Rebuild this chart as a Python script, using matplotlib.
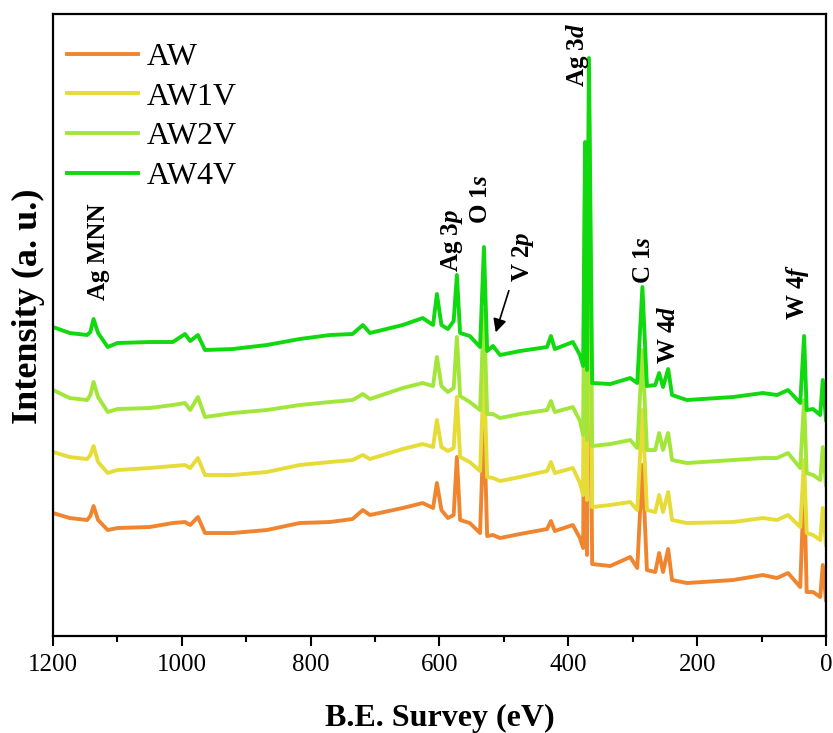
import matplotlib
matplotlib.use("Agg")
import matplotlib.pyplot as plt
from matplotlib.ticker import MultipleLocator

plt.rcParams["font.family"] = ["Liberation Serif", "DejaVu Serif"]
plt.rcParams["mathtext.fontset"] = "custom"
plt.rcParams["mathtext.rm"] = "Liberation Serif:bold"
plt.rcParams["mathtext.it"] = "Liberation Serif:italic:bold"
plt.rcParams["mathtext.bf"] = "Liberation Serif:bold"

# binding energy vertices (eV)
be = [1200, 1174, 1147, 1142, 1137, 1130, 1115, 1100, 1050, 1014,
      995, 987, 975, 964, 921, 868, 817, 770, 735, 719,
      708, 657, 626, 610, 604, 597, 587, 578, 573, 568,
      553, 537, 531, 526, 517, 506, 475, 433, 427, 421,
      393, 382, 377, 374, 371, 368, 363, 335, 304, 293,
      285, 278, 265, 259, 253, 245, 239, 216, 144, 98,
      76, 59, 40, 34, 30, 20, 9, 5, 0]

# intensities (a.u., already stacked)
aw = [123, 118, 116, 120, 130, 116, 106, 108, 109, 113,
      114, 111, 119, 103, 103, 106, 113, 114, 117, 126,
      121, 128, 133, 128, 153, 126, 118, 121, 179, 116,
      113, 103, 216, 100, 101, 98, 102, 107, 115, 105,
      111, 98, 88, 386, 81, 466, 72, 70, 79, 68,
      171, 66, 64, 83, 64, 87, 56, 53, 56, 61,
      58, 63, 49, 156, 44, 44, 39, 71, 36]
aw1v = [184, 179, 177, 181, 190, 174, 163, 166, 168, 170,
        171, 168, 178, 161, 161, 164, 171, 174, 176, 181,
        177, 187, 192, 189, 216, 189, 185, 188, 239, 179,
        174, 165, 266, 159, 158, 155, 159, 165, 174, 163,
        168, 153, 141, 426, 136, 506, 129, 131, 134, 126,
        226, 126, 124, 141, 124, 144, 116, 113, 114, 118,
        116, 121, 109, 176, 103, 101, 96, 128, 91]
aw2v = [246, 238, 236, 241, 254, 239, 224, 227, 228, 231,
        233, 226, 239, 219, 223, 226, 231, 234, 236, 242,
        237, 248, 253, 250, 279, 250, 244, 248, 299, 240,
        234, 226, 326, 222, 222, 218, 222, 226, 235, 224,
        229, 215, 201, 466, 196, 546, 190, 192, 196, 188,
        286, 186, 186, 203, 186, 203, 176, 173, 176, 178,
        178, 183, 168, 236, 163, 161, 156, 189, 151]
aw4v = [309, 303, 301, 304, 317, 303, 289, 293, 294, 294,
        302, 295, 301, 286, 287, 291, 297, 301, 302, 311,
        303, 311, 318, 311, 342, 311, 307, 315, 361, 303,
        300, 289, 389, 285, 290, 281, 285, 289, 300, 287,
        294, 281, 270, 494, 266, 578, 253, 252, 258, 253,
        349, 250, 251, 263, 249, 267, 241, 236, 239, 243,
        241, 246, 233, 300, 226, 227, 221, 256, 216]

labels = ["AW", "AW1V", "AW2V", "AW4V"]
colors = ["#f08530", "#e6dc37", "#a3e63a", "#10d910"]

# peak labels: text, x (eV), y bottom (a.u.)
peak_text = ["Ag MNN", r"Ag 3$\mathit{p}$", r"O 1$\mathit{s}$", r"V 2$\mathit{p}$",
             r"Ag 3$\mathit{d}$", r"C 1$\mathit{s}$", r"W 4$\mathit{d}$", r"W 4$\mathit{f}$"]
peak_x = [1130, 581, 536, 470, 385, 284, 245, 44]
peak_y = [336, 364, 412, 354, 549, 352, 272, 316]

fig = plt.figure(figsize=(8.33, 7.33), dpi=100)
ax = fig.add_axes([0.0636, 0.1323, 0.928, 0.8486])

for ys, lab, c in zip([aw, aw1v, aw2v, aw4v], labels, colors):
    ax.plot(be, ys, color=c, lw=2.8, label=lab)

for t, x, y in zip(peak_text, peak_x, peak_y):
    ax.text(x, y, t, rotation=90, ha="center", va="bottom",
            fontsize=18, fontweight="bold")

ax.annotate("", xy=(514, 301), xytext=(491, 348),
            arrowprops=dict(arrowstyle="-|>", color="black", lw=1.2,
                            mutation_scale=20))

ax.set_xlim(1200, 0)
ax.set_ylim(0, 622)
ax.xaxis.set_major_locator(MultipleLocator(200))
ax.xaxis.set_minor_locator(MultipleLocator(100))
ax.tick_params(axis="x", which="major", direction="out", length=7, width=1.5,
               labelsize=18, pad=6)
ax.tick_params(axis="x", which="minor", direction="out", length=4, width=1.5)
ax.set_yticks([])
for sp in ax.spines.values():
    sp.set_linewidth(1.6)

ax.set_xlabel("B.E. Survey (eV)", fontsize=23, fontweight="bold", labelpad=20)
ax.set_ylabel("Intensity (a. u.)", fontsize=26, fontweight="bold")
ax.yaxis.set_label_coords(-0.010, 0.53)

ax.legend(loc="upper left", bbox_to_anchor=(0.002, 0.975), borderaxespad=0,
          frameon=False, fontsize=23, handlelength=2.2,
          handletextpad=0.3, labelspacing=0.33)

plt.savefig("out.png", dpi=100)
